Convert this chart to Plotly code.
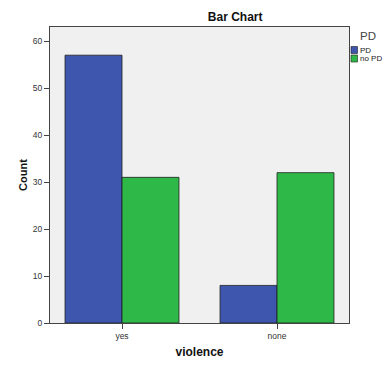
import plotly.graph_objects as go

categories = ["yes", "none"]
series_names = ["PD", "no PD"]
pd_counts = [57, 8]
no_pd_counts = [31, 32]
series_colors = ["#3E56AD", "#2EB848"]
y_ticks = [0, 10, 20, 30, 40, 50, 60]

W, H = 389, 374
L, R, T, B = 49.5, 40, 27, 51

fig = go.Figure()
for name, vals, col in zip(series_names, [pd_counts, no_pd_counts], series_colors):
    fig.add_trace(go.Bar(
        x=categories, y=vals, name=name,
        marker=dict(color=col, line=dict(color="#1e1e1e", width=0.8)),
        showlegend=False,
    ))

font_family = "Liberation Sans, Arial, sans-serif"

fig.update_layout(
    width=W, height=H,
    margin=dict(l=L, r=R, t=T, b=B, pad=0),
    paper_bgcolor="white",
    plot_bgcolor="#F0F0F0",
    barmode="group",
    bargap=0.265,
    bargroupgap=0,
    font=dict(family=font_family, size=8, color="#333333"),
    title=dict(text="<b>Bar Chart</b>", x=(235 - L) / (W - L - R), xref="paper",
               y=1 - 17 / H, yref="container", xanchor="center", yanchor="middle",
               font=dict(size=12, color="#111111", family=font_family)),
    xaxis=dict(
        range=[-0.4645, 1.4645],
        showline=True, linecolor="#444444", linewidth=1, mirror=True,
        ticks="outside", ticklen=5, tickcolor="#444444", tickwidth=1,
        tickfont=dict(size=8.5, color="#333333"),
        showgrid=False, zeroline=False, automargin=False,
        title=dict(text="<b>violence</b>", standoff=7,
                   font=dict(size=12, color="#111111", family=font_family)),
    ),
    yaxis=dict(
        range=[0, 63],
        tickvals=y_ticks,
        showline=True, linecolor="#444444", linewidth=1, mirror=True,
        ticks="outside", ticklen=5, tickcolor="#444444", tickwidth=1,
        tickfont=dict(size=8.5, color="#333333"),
        showgrid=False, zeroline=False, automargin=False,
        title=dict(text="<b>Count</b>", standoff=2,
                   font=dict(size=11, color="#111111", family=font_family)),
    ),
)

# Compact legend drawn like the reference
x0 = (351 - L) / (W - L - R)
sq = 6.5 / (W - L - R)
ph = H - T - B
annots = [dict(text="PD", x=(358.5 - L) / (W - L - R), y=1 - (36 - T) / ph,
               xref="paper", yref="paper", xanchor="left", yanchor="middle",
               showarrow=False, font=dict(size=11.5, color="#444444", family=font_family))]
shapes = []
for i, (name, col) in enumerate(zip(series_names, series_colors)):
    yc = 50 + i * 8.5
    shapes.append(dict(type="rect", xref="paper", yref="paper",
                       x0=x0, x1=x0 + sq,
                       y0=1 - (yc + 3.5 - T) / ph, y1=1 - (yc - 3.5 - T) / ph,
                       fillcolor=col, line=dict(color="#1e1e1e", width=0.6)))
    annots.append(dict(text=name, x=(358.5 - L) / (W - L - R), y=1 - (yc - T) / ph,
                       xref="paper", yref="paper", xanchor="left", yanchor="middle",
                       showarrow=False, font=dict(size=8, color="#222222", family=font_family)))
fig.update_layout(annotations=annots, shapes=shapes)

fig.write_html("out.html", config={"displayModeBar": False},
               post_script="document.body.style.margin='0px';")
